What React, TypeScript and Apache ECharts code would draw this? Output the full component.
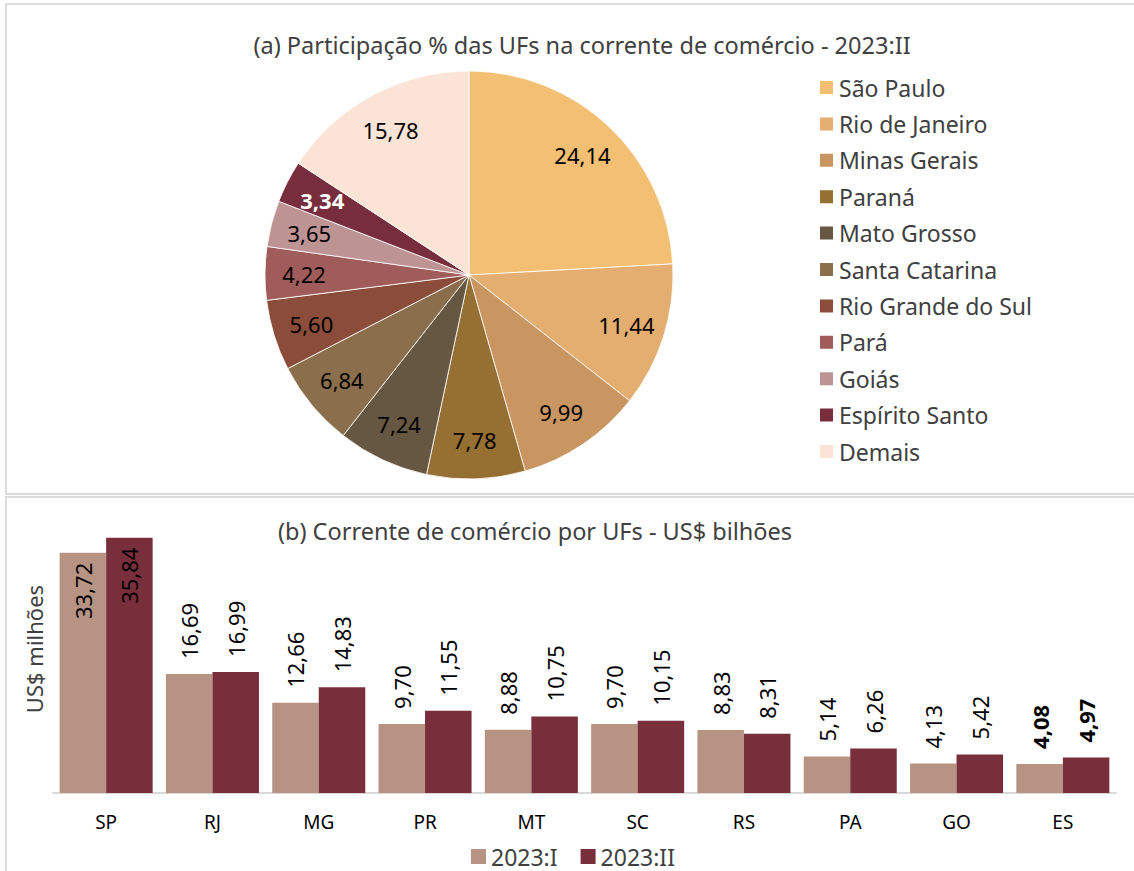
import React, { useEffect, useRef } from "react";
import * as echarts from "echarts";

const FONT = "'Noto Sans', 'Open Sans', sans-serif";

const pieTitle = "(a) Participação % das UFs na corrente de comércio - 2023:II";
const pieNames = [
  "São Paulo",
  "Rio de Janeiro",
  "Minas Gerais",
  "Paraná",
  "Mato Grosso",
  "Santa Catarina",
  "Rio Grande do Sul",
  "Pará",
  "Goiás",
  "Espírito Santo",
  "Demais",
];
const pieValues = [24.14, 11.44, 9.99, 7.78, 7.24, 6.84, 5.6, 4.22, 3.65, 3.34, 15.78];
const pieColors = [
  "#F3BF72",
  "#E3AE70",
  "#C99662",
  "#966F32",
  "#665742",
  "#8B6F4C",
  "#8B4C3A",
  "#A05C5A",
  "#BE9393",
  "#782D3C",
  "#FBE4D6",
];

const barTitle = "(b) Corrente de comércio por UFs - US$ bilhões";
const barAxisName = "US$ milhões";
const barCategories = ["SP", "RJ", "MG", "PR", "MT", "SC", "RS", "PA", "GO", "ES"];
const barSeriesNames = ["2023:I", "2023:II"];
const barValuesI = [33.72, 16.69, 12.66, 9.7, 8.88, 9.7, 8.83, 5.14, 4.13, 4.08];
const barValuesII = [35.84, 16.99, 14.83, 11.55, 10.75, 10.15, 8.31, 6.26, 5.42, 4.97];
const barColors = ["#B79384", "#782E3B"];

const fmt = (v: number) => v.toFixed(2).replace(".", ",");

export default function App() {
  const ref = useRef<HTMLDivElement>(null);
  useEffect(() => {
    if (!ref.current) return;
    const chart = echarts.init(ref.current, undefined, { renderer: "svg" });
    const barLabelBase = {
      show: true,
      position: "top",
      rotate: 90,
      align: "left",
      verticalAlign: "middle",
      distance: 15,
      fontSize: 22,
      color: "#000",
      fontFamily: FONT,
      formatter: (p: any) => fmt(p.value),
    };
    const makeBarData = (vals: number[]) =>
      vals.map((v, i) => {
        const item: any = { value: v };
        if (i === 0) {
          item.label = { position: "insideTop", align: "right", distance: 10 };
        } else if (i === vals.length - 1) {
          item.label = { fontWeight: "bold" };
        }
        return item;
      });

    chart.setOption({
      animation: false,
      backgroundColor: "#ffffff",
      textStyle: { fontFamily: FONT },
      graphic: [
        {
          type: "rect",
          z: -10,
          shape: { x: 6, y: 4, width: 1140, height: 490 },
          style: { fill: "none", stroke: "#DCDCDC", lineWidth: 2 },
        },
        {
          type: "rect",
          z: -10,
          shape: { x: 6, y: 497, width: 1140, height: 400 },
          style: { fill: "none", stroke: "#DCDCDC", lineWidth: 2 },
        },
        {
          type: "text",
          x: 582,
          y: 45,
          style: {
            text: pieTitle,
            fontSize: 23.5,
            fontFamily: FONT,
            fill: "#404040",
            align: "center",
            verticalAlign: "middle",
          },
        },
        {
          type: "text",
          x: 535,
          y: 531,
          style: {
            text: barTitle,
            fontSize: 23.5,
            fontFamily: FONT,
            fill: "#404040",
            align: "center",
            verticalAlign: "middle",
          },
        },
        {
          type: "text",
          x: 34,
          y: 649,
          rotation: Math.PI / 2,
          style: {
            text: barAxisName,
            fontSize: 22,
            fontFamily: FONT,
            fill: "#404040",
            align: "center",
            verticalAlign: "middle",
          },
        },
      ],
      legend: [
        {
          data: pieNames,
          orient: "vertical",
          left: 818,
          top: 76,
          padding: 0,
          icon: "rect",
          itemWidth: 15,
          itemHeight: 15,
          itemGap: 13.4,
          selectedMode: false,
          textStyle: { fontSize: 23, lineHeight: 22, color: "#404040", fontFamily: FONT },
        },
        {
          data: barSeriesNames,
          orient: "horizontal",
          left: 471,
          top: 845,
          padding: 0,
          icon: "rect",
          itemWidth: 15,
          itemHeight: 15,
          itemGap: 23,
          selectedMode: false,
          textStyle: { fontSize: 23, lineHeight: 22, color: "#404040", fontFamily: FONT },
        },
      ],
      grid: { left: 53, right: 18, top: 508, height: 285 },
      xAxis: {
        type: "category",
        data: barCategories,
        axisLine: { lineStyle: { color: "#D9D9D9", width: 2 } },
        axisTick: { show: false },
        axisLabel: { fontSize: 19, color: "#000", margin: 19, fontFamily: FONT },
      },
      yAxis: { type: "value", min: 0, max: 40, show: false },
      series: [
        {
          type: "pie",
          center: [469, 275],
          radius: 204,
          startAngle: 90,
          clockwise: true,
          silent: true,
          label: { show: false },
          labelLine: { show: false },
          itemStyle: { borderColor: "#ffffff", borderWidth: 0.8 },
          data: pieNames.map((n, i) => ({
            name: n,
            value: pieValues[i],
            itemStyle: { color: pieColors[i] },
          })),
        },
        {
          type: "pie",
          center: [469, 275],
          radius: [120, 204],
          startAngle: 90,
          clockwise: true,
          silent: true,
          legendHoverLink: false,
          labelLine: { show: false },
          label: {
            show: true,
            position: "inside",
            fontSize: 22,
            color: "#000",
            fontFamily: FONT,
            formatter: (p: any) => fmt(p.value),
          },
          data: pieNames.map((n, i) => ({
            name: n + " (rótulo)",
            value: pieValues[i],
            itemStyle: { color: "rgba(0,0,0,0)" },
            label: i === 9 ? { color: "#ffffff", fontWeight: "bold" } : undefined,
          })),
        },
        {
          name: barSeriesNames[0],
          type: "bar",
          barGap: "0%",
          barCategoryGap: "12.5%",
          itemStyle: { color: barColors[0] },
          label: barLabelBase,
          data: makeBarData(barValuesI),
        },
        {
          name: barSeriesNames[1],
          type: "bar",
          barGap: "0%",
          barCategoryGap: "12.5%",
          itemStyle: { color: barColors[1] },
          label: barLabelBase,
          data: makeBarData(barValuesII),
        },
      ],
    });
    return () => chart.dispose();
  }, []);
  return (
    <div
      ref={ref}
      style={{ position: "fixed", left: 0, top: 0, width: 1134, height: 871, background: "#fff" }}
    />
  );
}
